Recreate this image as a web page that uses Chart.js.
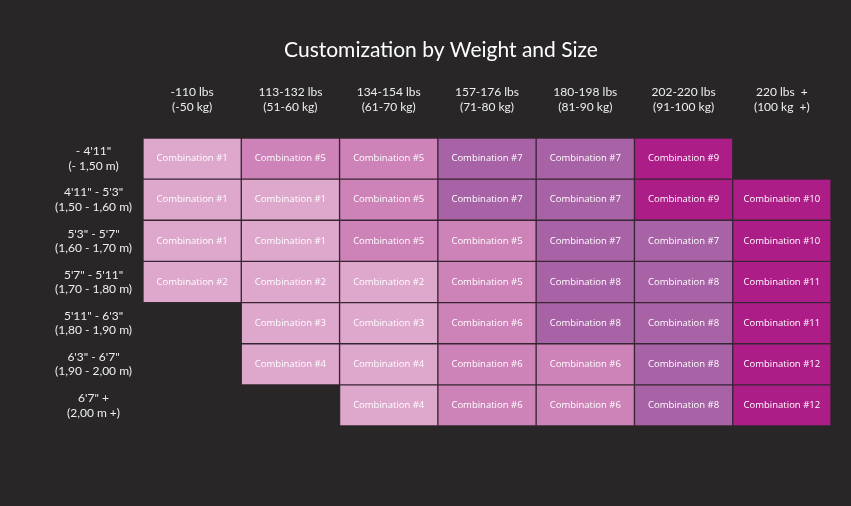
<!DOCTYPE html>
<html>
<head>
<meta charset="utf-8">
<script src="https://cdn.jsdelivr.net/npm/chart.js@4"></script>
<style>
  html, body { margin: 0; padding: 0; background: #282627; }
  #wrap { width: 851px; height: 506px; }
</style>
</head>
<body>
<div id="wrap"><canvas id="heat"></canvas></div>
<script>
const weightLabels = [
    ['-110 lbs', '(-50 kg)'], ['113-132 lbs', '(51-60 kg)'], ['134-154 lbs', '(61-70 kg)'],
    ['157-176 lbs', '(71-80 kg)'], ['180-198 lbs', '(81-90 kg)'], ['202-220 lbs', '(91-100 kg)'],
    ['220 lbs  +', '(100 kg  +)']
];
const sizeLabels = [
    ['- 4\'11"', '(- 1,50 m)'], ['4\'11" - 5\'3"', '(1,50 - 1,60 m)'], ['5\'3" - 5\'7"', '(1,60 - 1,70 m)'],
    ['5\'7" - 5\'11"', '(1,70 - 1,80 m)'], ['5\'11" - 6\'3"', '(1,80 - 1,90 m)'], ['6\'3" - 6\'7"', '(1,90 - 2,00 m)'],
    ['6\'7" +', '(2,00 m +)']
];
// combination number per size row, per weight column (0 = none)
const row0 = [1, 5, 5, 7, 7, 9, 0];
const row1 = [1, 1, 5, 7, 7, 9, 10];
const row2 = [1, 1, 5, 5, 7, 7, 10];
const row3 = [2, 2, 2, 5, 8, 8, 11];
const row4 = [0, 3, 3, 6, 8, 8, 11];
const row5 = [0, 4, 4, 6, 6, 8, 12];
const row6 = [0, 0, 4, 6, 6, 8, 12];
const combos = [row0, row1, row2, row3, row4, row5, row6];

function comboColor(n) {
    if (n <= 4) return '#dea8cc';
    if (n <= 6) return '#cd82b8';
    if (n <= 8) return '#a862a6';
    return '#ad1d87';
}

const datasets = combos.map((row, r) => ({
    data: row.map(n => n ? [r, r + 1] : null),
    backgroundColor: row.map(n => comboColor(n)),
    borderColor: 'rgba(90,40,80,0.25)',
    borderWidth: 1,
    borderSkipped: false,
    barPercentage: 1,
    categoryPercentage: 1,
    grouped: false
}));

const bgPlugin = {
    id: 'bg',
    beforeDraw(chart) {
        const c = chart.ctx;
        c.save();
        c.fillStyle = '#282627';
        c.fillRect(0, 0, chart.width, chart.height);
        c.restore();
    }
};

const cellText = {
    id: 'cellText',
    afterDatasetsDraw(chart) {
        const c = chart.ctx;
        c.save();
        c.fillStyle = '#ffffff';
        c.font = '9.5px "Open Sans", sans-serif';
        c.textAlign = 'center';
        c.textBaseline = 'middle';
        chart.data.datasets.forEach((ds, r) => {
            chart.getDatasetMeta(r).data.forEach((bar, i) => {
                const n = combos[r][i];
                if (!n) return;
                c.fillText('Combination #' + n, bar.x, (bar.y + bar.base) / 2);
            });
        });
        c.restore();
    }
};

new Chart(document.getElementById('heat'), {
    type: 'bar',
    data: { labels: weightLabels, datasets },
    plugins: [bgPlugin, cellText],
    options: {
        responsive: true,
        maintainAspectRatio: false,
        animation: false,
        layout: { padding: { top: 38, left: 51, right: 20, bottom: 80 } },
        plugins: {
            legend: { display: false },
            tooltip: { enabled: false },
            title: {
                display: true,
                text: 'Customization by Weight and Size',
                color: '#ffffff',
                font: { family: 'Lato', size: 21, weight: 'normal' },
                padding: { top: 0, bottom: 10 }
            }
        },
        scales: {
            x: {
                position: 'top',
                grid: { display: false },
                border: { display: false },
                ticks: { color: '#eeeeee', font: { family: 'Lato', size: 12 }, padding: 16, maxRotation: 0 },
                afterFit(s) { s.height = 64.8; }
            },
            y: {
                reverse: true,
                min: 0,
                max: 7,
                grid: { display: false },
                border: { display: false },
                afterBuildTicks(s) { s.ticks = sizeLabels.map((_, i) => ({ value: i + 0.5 })); },
                ticks: {
                    color: '#eeeeee',
                    font: { family: 'Lato', size: 12 },
                    crossAlign: 'center',
                    callback: v => sizeLabels[Math.floor(v)]
                },
                afterFit(s) { s.width = 92; }
            }
        }
    }
});
</script>
</body>
</html>
